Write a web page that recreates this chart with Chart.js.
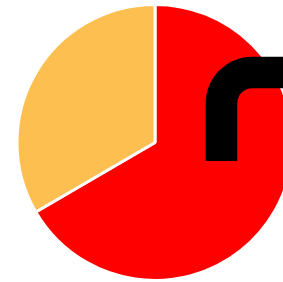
<!DOCTYPE html>
<html><head><meta charset="utf-8">
<script src="https://cdn.jsdelivr.net/npm/chart.js@4/dist/chart.umd.min.js"></script>
<style>
html,body{margin:0;padding:0;overflow:hidden;background:#fff;width:283px;height:282px;}
#wrap{position:absolute;left:0;top:0;width:310px;height:282px;}
</style></head>
<body>
<div id="wrap"><canvas id="c"></canvas></div>
<script>
const categories = ["A", "B"];
const values = [66.6, 33.4];
const colors = ["#FF0000", "#FCBF50"];

// decorative black rounded-corner stroke overlay
const cornerPlugin = {
  id: 'corner',
  afterDraw(chart) {
    const ctx = chart.ctx;
    ctx.save();
    ctx.strokeStyle = '#000';
    ctx.lineWidth = 31.5;
    ctx.lineCap = 'butt';
    ctx.beginPath();
    ctx.moveTo(221.5, 161);
    ctx.arcTo(221.5, 72.4, 320, 72.4, 31);
    ctx.lineTo(320, 72.4);
    ctx.stroke();
    ctx.restore();
  }
};

new Chart(document.getElementById('c'), {
  type: 'pie',
  data: {
    labels: categories,
    datasets: [{
      data: values,
      backgroundColor: colors,
      borderColor: '#fff',
      borderWidth: 3
    }]
  },
  options: {
    responsive: true,
    maintainAspectRatio: false,
    animation: false,
    layout: { padding: { top: 3, bottom: 0 } },
    plugins: { legend: { display: false }, tooltip: { enabled: false }, title: { display: false } }
  },
  plugins: [cornerPlugin]
});
</script>
</body></html>
